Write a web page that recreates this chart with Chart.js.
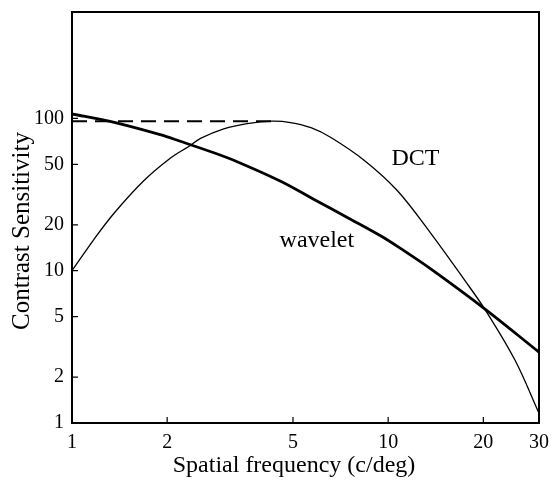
<!DOCTYPE html>
<html>
<head>
<meta charset="utf-8">
<script src="https://cdn.jsdelivr.net/npm/chart.js@4"></script>
<style>
  html, body { margin: 0; padding: 0; background: #fff; }
  #wrap { width: 559px; height: 481px; }
</style>
</head>
<body>
<div id="wrap"><canvas id="myChart" width="559" height="481"></canvas></div>
<script>
// values
var dctX = [1, 1.169, 1.35, 1.68, 2.05, 2.34, 2.55, 3.02, 3.58, 4.3, 4.91, 5.7, 6.59, 8.41, 10.7, 13.7, 17.5, 20.2, 25.2, 30];
var dctY = [10, 15.9, 23.5, 38.7, 55, 65.5, 74, 85.5, 92.5, 96, 94, 87, 75, 53, 33.5, 17.4, 8.6, 5.6, 2.58, 1.16];
var waveletX = [1, 1.32, 1.9, 2.2, 2.81, 3.33, 4.57, 5.83, 7.45, 9.49, 11, 13.7, 20.2, 30];
var waveletY = [107, 95.5, 78.2, 70.8, 59.5, 52, 38.7, 29.4, 22.3, 16.9, 13.9, 10.2, 5.62, 2.92];
var dashX = [1, 4.5];
var dashY = [96, 96];
var xTicks = [1, 2, 5, 10, 20, 30];
var yTicks = [1, 2, 5, 10, 20, 50, 100];

var serif = "'Liberation Serif', 'Times New Roman', serif";

function pts(xs, ys) {
  return xs.map(function (x, i) { return { x: x, y: ys[i] }; });
}

// curve names written inside the plot
var curveNames = [
  { text: "DCT", x: 12.2, y: 54 },
  { text: "wavelet", x: 5.95, y: 15.7 }
];

var framePlugin = {
  id: "frame",
  afterDatasetsDraw: function (chart) {
    var c = chart.ctx, a = chart.chartArea;
    var xs = chart.scales.x, ys = chart.scales.y;
    c.save();
    c.strokeStyle = "#000";
    c.lineWidth = 2;
    c.strokeRect(a.left, a.top, a.right - a.left, a.bottom - a.top);
    c.lineWidth = 1.2;
    c.beginPath();
    xTicks.forEach(function (v) {
      var px = xs.getPixelForValue(v);
      c.moveTo(px, a.bottom);
      c.lineTo(px, a.bottom - 6);
    });
    yTicks.forEach(function (v) {
      var py = ys.getPixelForValue(v);
      c.moveTo(a.left, py);
      c.lineTo(a.left + 6, py);
    });
    c.stroke();
    c.fillStyle = "#000";
    c.font = "24px " + serif;
    c.textAlign = "center";
    c.textBaseline = "middle";
    curveNames.forEach(function (n) {
      c.fillText(n.text, xs.getPixelForValue(n.x), ys.getPixelForValue(n.y));
    });
    // axis titles
    c.fillText("Spatial frequency (c/deg)", 294, 466);
    c.translate(22, 231);
    c.rotate(-Math.PI / 2);
    c.font = "25px " + serif;
    c.fillText("Contrast Sensitivity", 0, 0);
    c.restore();
  }
};

var ctx = document.getElementById("myChart").getContext("2d");
var myChart = new Chart(ctx, {
  type: "scatter",
  data: {
    datasets: [
      {
        label: "DCT",
        data: pts(dctX, dctY),
        showLine: true,
        borderColor: "#000",
        borderWidth: 1.3,
        pointRadius: 0,
        tension: 0.35
      },
      {
        label: "wavelet",
        data: pts(waveletX, waveletY),
        showLine: true,
        borderColor: "#000",
        borderWidth: 2.8,
        pointRadius: 0,
        tension: 0.35
      },
      {
        label: "level",
        data: pts(dashX, dashY),
        showLine: true,
        borderColor: "#000",
        borderWidth: 2,
        borderDash: [15, 8],
        pointRadius: 0
      }
    ]
  },
  options: {
    responsive: false,
    animation: false,
    layout: { padding: { top: 9, right: 20, left: 0, bottom: 0 } },
    plugins: {
      legend: { display: false },
      tooltip: { enabled: false }
    },
    scales: {
      x: {
        type: "logarithmic",
        min: 1,
        max: 30,
        grid: { display: false },
        border: { display: false },
        afterBuildTicks: function (s) {
          s.ticks = xTicks.map(function (v) { return { value: v }; });
        },
        afterFit: function (s) { s.height = 58; },
        ticks: {
          color: "#000",
          padding: 0,
          maxRotation: 0,
          autoSkip: false,
          font: { family: serif, size: 20 },
          callback: function (v) { return String(v); }
        }
      },
      y: {
        type: "logarithmic",
        min: 1,
        max: 500,
        grid: { display: false },
        border: { display: false },
        afterBuildTicks: function (s) {
          s.ticks = yTicks.map(function (v) { return { value: v }; });
        },
        afterFit: function (s) { s.width = 72; },
        ticks: {
          color: "#000",
          padding: 0,
          autoSkip: false,
          font: { family: serif, size: 20 },
          callback: function (v) { return String(v); }
        }
      }
    }
  },
  plugins: [framePlugin]
});
</script>
</body>
</html>
